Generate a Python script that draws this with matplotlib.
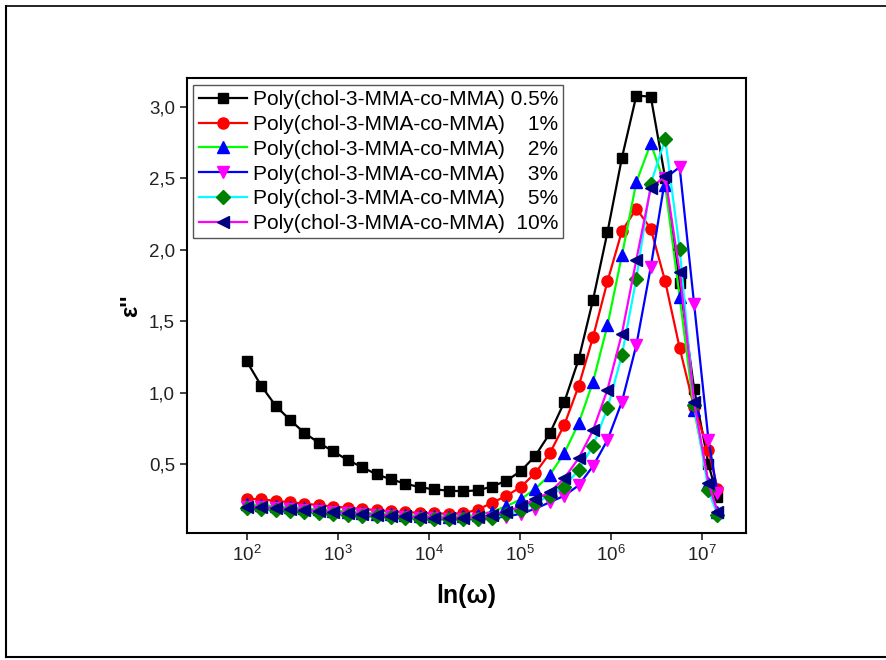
import matplotlib
matplotlib.use('Agg')
import numpy as np
import matplotlib.pyplot as plt
from matplotlib.ticker import FuncFormatter
from matplotlib.lines import Line2D

plt.rcParams['font.family'] = ['Liberation Sans', 'DejaVu Sans']
plt.rcParams['mathtext.fontset'] = 'custom'
plt.rcParams['mathtext.rm'] = 'Liberation Sans'
plt.rcParams['mathtext.it'] = 'Liberation Sans:italic'
plt.rcParams['mathtext.bf'] = 'Liberation Sans:bold'

# frequency points (omega)
freq = [100, 144, 207.5, 299, 430.5, 620, 893, 1287, 1853, 2669, 3845, 5538, 7977,
        11490, 16550, 23840, 34340, 49460, 71240, 102600, 147800, 212900, 306700,
        441800, 636300, 916600, 1320000, 1901000, 2739000, 3945000, 5682000,
        8185000, 11790000, 14800000]

eps_05 = [1.22, 1.05, 0.91, 0.81, 0.72, 0.65, 0.59, 0.53, 0.48, 0.43, 0.395, 0.365, 0.34,
          0.325, 0.316, 0.312, 0.318, 0.345, 0.386, 0.453, 0.56, 0.716, 0.933, 1.233,
          1.651, 2.123, 2.642, 3.077, 3.070, 2.50, 1.77, 1.03, 0.50, 0.27]
eps_1 = [0.26, 0.255, 0.245, 0.235, 0.225, 0.215, 0.205, 0.196, 0.188, 0.18, 0.172, 0.166,
         0.161, 0.157, 0.155, 0.158, 0.183, 0.231, 0.28, 0.342, 0.44, 0.577, 0.774, 1.046,
         1.39, 1.779, 2.13, 2.287, 2.147, 1.779, 1.314, 0.90, 0.60, 0.33]
eps_2 = [0.22, 0.215, 0.207, 0.2, 0.192, 0.185, 0.177, 0.17, 0.163, 0.156, 0.15, 0.145,
         0.14, 0.137, 0.135, 0.137, 0.145, 0.17, 0.207, 0.256, 0.33, 0.425, 0.577, 0.786,
         1.077, 1.472, 1.96, 2.472, 2.744, 2.449, 1.67, 0.879, 0.37, 0.169]
eps_3 = [0.205, 0.2, 0.193, 0.186, 0.179, 0.172, 0.165, 0.158, 0.151, 0.145, 0.139, 0.133,
         0.128, 0.124, 0.121, 0.12, 0.121, 0.125, 0.135, 0.155, 0.19, 0.235, 0.28, 0.353,
         0.488, 0.67, 0.937, 1.333, 1.879, 2.5, 2.577, 1.624, 0.67, 0.298]
eps_5 = [0.195, 0.19, 0.183, 0.176, 0.169, 0.162, 0.155, 0.148, 0.142, 0.136, 0.13, 0.125,
         0.121, 0.118, 0.116, 0.116, 0.118, 0.125, 0.15, 0.183, 0.231, 0.28, 0.344, 0.46,
         0.628, 0.891, 1.263, 1.798, 2.461, 2.775, 2.007, 0.914, 0.319, 0.146]
eps_10 = [0.205, 0.2, 0.194, 0.187, 0.18, 0.173, 0.166, 0.159, 0.153, 0.147, 0.141, 0.136,
          0.132, 0.128, 0.126, 0.126, 0.13, 0.145, 0.17, 0.207, 0.256, 0.305, 0.402, 0.542,
          0.739, 1.023, 1.414, 1.93, 2.433, 2.512, 1.844, 0.937, 0.367, 0.169]

labels = ['Poly(chol-3-MMA-co-MMA) 0.5%',
          'Poly(chol-3-MMA-co-MMA)    1%',
          'Poly(chol-3-MMA-co-MMA)    2%',
          'Poly(chol-3-MMA-co-MMA)    3%',
          'Poly(chol-3-MMA-co-MMA)    5%',
          'Poly(chol-3-MMA-co-MMA)  10%']

series = [eps_05, eps_1, eps_2, eps_3, eps_5, eps_10]
line_colors = ['#000000', '#ff0000', '#00ff00', '#0000ff', '#00ffff', '#ff00ff']
marker_colors = ['#000000', '#ff0000', '#0000ff', '#ff00ff', '#008000', '#000080']
markers = ['s', 'o', '^', 'v', 'D', '<']
msizes = [7.5, 8, 8.5, 8.5, 7, 8.5]

fig = plt.figure(figsize=(8.87, 6.6), dpi=100)
ax = fig.add_axes([0.2105, 0.1924, 0.6305, 0.6894])

for y, lc, mc, m, ms, lab in zip(series, line_colors, marker_colors, markers, msizes, labels):
    ax.plot(freq, y, color=lc, lw=1.6, marker=m, ms=ms, mfc=mc, mec=mc, label=lab)

ax.set_xscale('log')
ax.set_xlim(10**1.341, 10**7.483)
ax.set_ylim(0.02, 3.2)
ax.set_xticks([1e2, 1e3, 1e4, 1e5, 1e6, 1e7])
ax.minorticks_off()
ax.set_yticks([0.5, 1.0, 1.5, 2.0, 2.5, 3.0])
ax.yaxis.set_major_formatter(FuncFormatter(lambda v, p: ('%.1f' % v).replace('.', ',')))
ax.tick_params(direction='out', length=5, width=1.2, labelsize=13.5, colors='#222222')
ax.tick_params(top=False, right=False)
for s in ax.spines.values():
    s.set_linewidth(1.5)

ax.set_xlabel('ln(ω)', fontsize=18, fontweight='bold', labelpad=14)
ax.set_ylabel("ε''", fontsize=17, fontweight='bold', labelpad=5)

leg = ax.legend(loc='upper left', bbox_to_anchor=(0.012, 0.985), fontsize=15,
                fancybox=False, edgecolor='#555555', framealpha=1, handlelength=2.3,
                handletextpad=0.3, labelspacing=0.28, borderpad=0.25, numpoints=1,
                borderaxespad=0)
leg.get_frame().set_linewidth(1.0)

# outer frame of the figure
fig.add_artist(Line2D([6/887, 6/887], [1 - 6/660, 1 - 657/660], color='black', lw=1.5, transform=fig.transFigure))
fig.add_artist(Line2D([6/887, 1], [1 - 6/660, 1 - 6/660], color='black', lw=1.2, transform=fig.transFigure))
fig.add_artist(Line2D([6/887, 1], [1 - 657/660, 1 - 657/660], color='black', lw=1.5, transform=fig.transFigure))

fig.savefig('out.png', dpi=100)
